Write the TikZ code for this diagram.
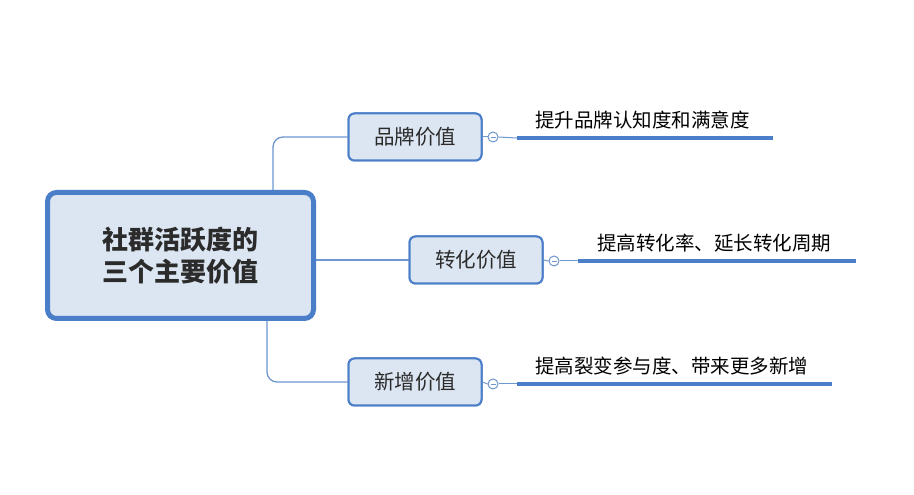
\documentclass[tikz,border=0pt]{standalone}
\usepackage{fontspec}
\setmainfont{Noto Sans CJK SC}
\definecolor{bblue}{HTML}{4A7EC8}
\definecolor{lblue}{HTML}{6E97D0}
\definecolor{bfill}{HTML}{DCE6F2}
\definecolor{tdark}{HTML}{2B2B2B}
\tikzset{
  x=1pt,y=1pt,
  rootbox/.style={draw=bblue,line width=5pt,fill=bfill,rounded corners=9pt,minimum width=266pt,minimum height=126pt,align=center,font=\fontsize{26}{32}\selectfont\bfseries,text=tdark},
  subbox/.style={draw=bblue,line width=2pt,fill=bfill,rounded corners=6pt,minimum width=133pt,minimum height=47pt,font=\fontsize{20.5}{22}\selectfont,text=tdark},
  conn/.style={draw=lblue,line width=1.3pt,rounded corners=10pt},
  knob/.style={circle,draw=lblue,line width=1pt,fill=white,minimum size=10pt,inner sep=0pt},
  leafline/.style={draw=bblue,line width=3.5pt},
  leaftext/.style={font=\fontsize{19.5}{22}\selectfont,text=black,anchor=base west,inner sep=0pt},
}
\begin{document}
\begin{tikzpicture}
\useasboundingbox (0,0) rectangle (914,495);
\fill[white] (0,0) rectangle (914,495);
\coordinate (r1) at (273,305);
\coordinate (r3) at (267,174);
\coordinate (rr) at (316,235);
\node[subbox] (b1) at (415,358) {品牌价值};
\node[subbox] (b2) at (476,235) {转化价值};
\node[subbox] (b3) at (415,113) {新增价值};
\draw[conn] (r1) |- (b1.west);
\draw[conn] (rr) -- (b2.west);
\draw[conn] (r3) |- (b3.west);
\node[rootbox] (root) at (180.5,239.5) {社群活跃度的\\三个主要价值};
\node[subbox] at (b1) {品牌价值};
\node[subbox] at (b2) {转化价值};
\node[subbox] at (b3) {新增价值};
% leaves
\node[knob] (k1) at (493,358) {};
\node[knob] (k2) at (554,234) {};
\node[knob] (k3) at (493,111) {};
\draw[lblue,line width=1pt] (b1.east) -- (k1.west);
\draw[lblue,line width=1pt] (b2.east) -- (k2.west);
\draw[lblue,line width=1pt] (b3.east) -- (k3.west);
\draw[lblue,line width=0.8pt] ([xshift=-2.5pt]k1.center) -- ([xshift=2.5pt]k1.center);
\draw[lblue,line width=0.8pt] ([xshift=-2.5pt]k2.center) -- ([xshift=2.5pt]k2.center);
\draw[lblue,line width=0.8pt] ([xshift=-2.5pt]k3.center) -- ([xshift=2.5pt]k3.center);
\coordinate (l1a) at (517,357);
\coordinate (l1b) at (773,357);
\coordinate (l2a) at (578,234);
\coordinate (l2b) at (856,234);
\coordinate (l3a) at (517,111);
\coordinate (l3b) at (832,111);
\draw[lblue,line width=1pt] (k1.east) -- (l1a);
\draw[lblue,line width=1pt] (k2.east) -- (l2a);
\draw[lblue,line width=1pt] (k3.east) -- (l3a);
\draw[leafline] (l1a) -- (l1b);
\draw[leafline] (l2a) -- (l2b);
\draw[leafline] (l3a) -- (l3b);
\node[leaftext] (t1) at (535,367) {提升品牌认知度和满意度};
\node[leaftext] (t2) at (597,244) {提高转化率、延长转化周期};
\node[leaftext] (t3) at (535,121) {提高裂变参与度、带来更多新增};
\end{tikzpicture}
\end{document}
